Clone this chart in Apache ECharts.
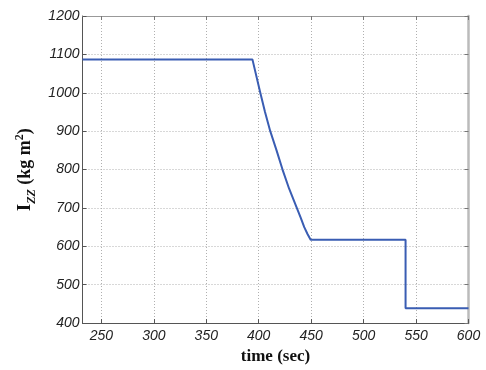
<!DOCTYPE html>
<html>
<head>
<meta charset="utf-8">
<script src="https://cdn.jsdelivr.net/npm/echarts@6/dist/echarts.min.js"></script>
<style>html,body{margin:0;padding:0;background:#fff}#c{width:486px;height:370px}</style>
</head>
<body>
<div id="c"></div>
<script>
const timeSec = [232, 394, 401.5, 406, 411, 417, 422.7, 429, 436.3, 440, 443.4, 446.5, 449.5, 540, 540, 600];
const izz =     [1087, 1087, 1000, 950, 900, 850, 800, 750, 700, 675, 650, 632, 617, 617, 439, 439];
const xTicks = [250, 300, 350, 400, 450, 500, 550, 600];
const yTicks = [400, 500, 600, 700, 800, 900, 1000, 1100, 1200];

const chart = echarts.init(document.getElementById('c'));
const tickFont = {fontFamily: 'Liberation Sans', fontStyle: 'italic', fontSize: 14, color: '#222'};
const pts = timeSec.map((t, i) => [t, izz[i]]);
chart.setOption({
  animation: false,
  grid: {left: 82.5, right: 17.5, top: 16, bottom: 43},
  xAxis: [{
    type: 'value', min: 232, max: 600,
    name: 'time (sec)', nameLocation: 'middle', nameGap: 22,
    nameTextStyle: {fontFamily: 'Liberation Serif', fontWeight: 'bold', fontSize: 17, color: '#111'},
    axisLine: {lineStyle: {color: '#555', width: 1}},
    axisTick: {inside: true, length: 4, customValues: xTicks, lineStyle: {color: '#555'}},
    axisLabel: {customValues: xTicks, margin: 6, formatter: v => String(v), ...tickFont},
    splitLine: {show: true, lineStyle: {color: '#b0b0b0', type: [1, 2], width: 1}}
  }, {
    type: 'value', min: 232, max: 600, position: 'top',
    axisLine: {show: true, onZero: false, lineStyle: {color: '#999', width: 1}},
    axisTick: {show: true, inside: true, length: 4, customValues: xTicks, lineStyle: {color: '#777'}},
    axisLabel: {show: false}, splitLine: {show: false}
  }],
  yAxis: [{
    type: 'value', min: 400, max: 1200, interval: 100,
    name: '{a|I}{b|ZZ}{a| (kg m}{c|2}{a|)}', nameLocation: 'middle', nameRotate: 90, nameGap: 45,
    nameTextStyle: {
      rich: {
        a: {fontFamily: 'Liberation Serif', fontWeight: 'bold', fontSize: 18, color: '#111', lineHeight: 24},
        b: {fontFamily: 'Liberation Serif', fontWeight: 'bold', fontStyle: 'italic', fontSize: 12, color: '#111', lineHeight: 12, verticalAlign: 'bottom'},
        c: {fontFamily: 'Liberation Serif', fontWeight: 'bold', fontSize: 12, color: '#111', lineHeight: 12, verticalAlign: 'top'}
      }
    },
    axisLine: {show: true, lineStyle: {color: '#555', width: 1}},
    axisTick: {show: true, inside: true, length: 4, lineStyle: {color: '#555'}},
    axisLabel: {margin: 3, formatter: v => String(v), ...tickFont},
    splitLine: {show: true, lineStyle: {color: '#b0b0b0', type: [1, 2], width: 1}}
  }, {
    type: 'value', min: 400, max: 1200, interval: 100, position: 'right',
    axisLine: {show: true, onZero: false, lineStyle: {color: '#bbb', width: 2.5}},
    axisTick: {show: true, inside: true, length: 4, lineStyle: {color: '#777'}},
    axisLabel: {show: false}, splitLine: {show: false}
  }],
  series: [{
    type: 'line', data: pts, showSymbol: false, symbol: 'none',
    lineStyle: {color: '#3a5db3', width: 2}
  }]
});
</script>
</body>
</html>
